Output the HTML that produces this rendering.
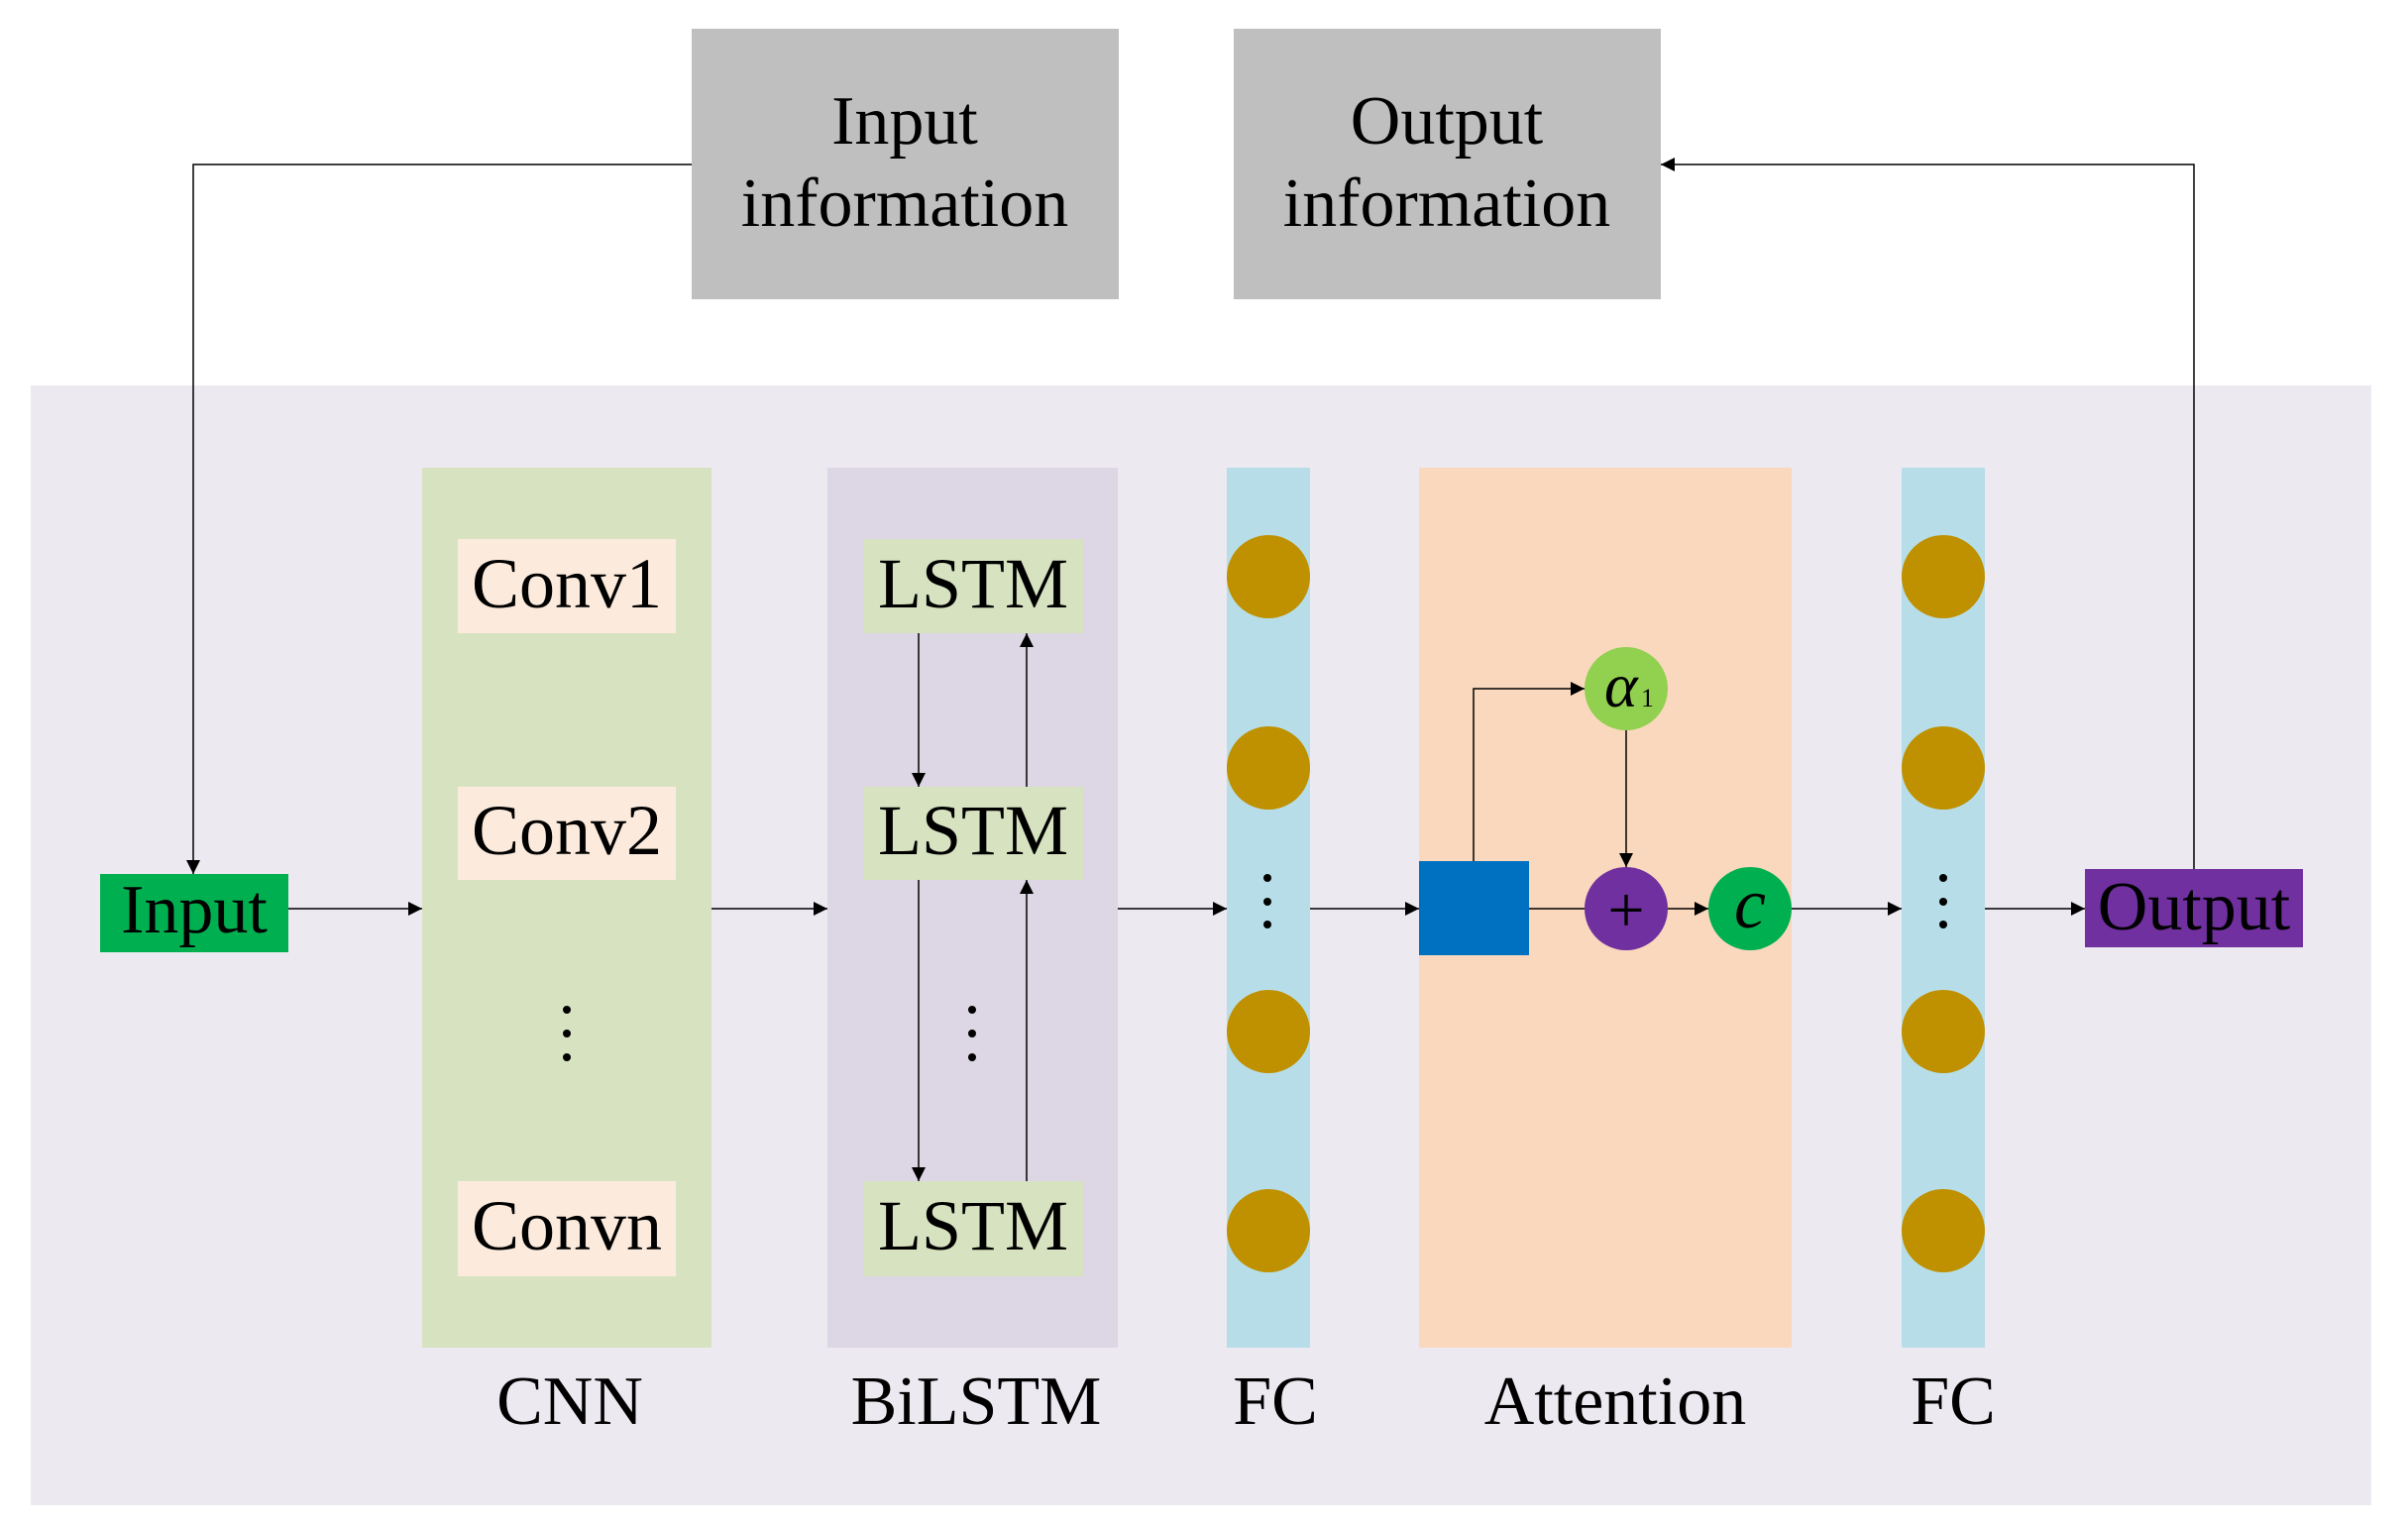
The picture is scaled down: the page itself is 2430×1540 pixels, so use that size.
<!DOCTYPE html>
<html><head><meta charset="utf-8"><style>
html,body{margin:0;padding:0;background:#fff;}
svg{display:block;}
text{font-family:"Liberation Serif",serif;fill:#000;}
</style></head><body>
<svg width="2430" height="1540" viewBox="0 0 2430 1540" xmlns="http://www.w3.org/2000/svg">
<defs>
<marker id="a" viewBox="0 0 10 10" refX="10" refY="5" markerWidth="20" markerHeight="14" markerUnits="userSpaceOnUse" orient="auto">
<path d="M0,0 L10,5 L0,10 z" fill="#000"/></marker>
</defs>
<rect x="0" y="0" width="2430" height="1540" fill="#fff"/>
<rect x="698" y="29" width="431" height="273" fill="#bfbfbf"/>
<text x="913" y="145" font-size="70" text-anchor="middle">Input</text>
<text x="913" y="228" font-size="70" text-anchor="middle">information</text>
<rect x="1245" y="29" width="431" height="273" fill="#bfbfbf"/>
<text x="1460" y="145" font-size="70" text-anchor="middle">Output</text>
<text x="1460" y="228" font-size="70" text-anchor="middle">information</text>
<rect x="31" y="389" width="2362" height="1130" fill="#ece9f1"/>
<rect x="426" y="472" width="292" height="888" fill="#d7e3c0"/>
<rect x="835" y="472" width="293" height="888" fill="#dcd6e5"/>
<rect x="1238" y="472" width="84" height="888" fill="#b7dee8"/>
<rect x="1432" y="472" width="376" height="888" fill="#fad8bd"/>
<rect x="1919" y="472" width="84" height="888" fill="#b7dee8"/>
<rect x="462" y="544" width="220" height="95" fill="#fcebdd"/>
<text x="572" y="613" font-size="72" text-anchor="middle">Conv1</text>
<rect x="462" y="794" width="220" height="94" fill="#fcebdd"/>
<text x="572" y="862" font-size="72" text-anchor="middle">Conv2</text>
<rect x="462" y="1192" width="220" height="96" fill="#fcebdd"/>
<text x="572" y="1261" font-size="72" text-anchor="middle">Convn</text>
<g fill="#000">
<circle cx="572" cy="1019" r="4"/><circle cx="572" cy="1043" r="4"/><circle cx="572" cy="1067" r="4"/>
<circle cx="981" cy="1019" r="4"/><circle cx="981" cy="1043" r="4"/><circle cx="981" cy="1067" r="4"/>
<circle cx="1279" cy="886" r="4"/><circle cx="1279" cy="910" r="4"/><circle cx="1279" cy="933" r="4"/>
<circle cx="1961" cy="886" r="4"/><circle cx="1961" cy="910" r="4"/><circle cx="1961" cy="933" r="4"/>
</g>
<rect x="872" y="544" width="221" height="95" fill="#d7e3c0"/>
<text x="982" y="613" font-size="72" text-anchor="middle">LSTM</text>
<rect x="872" y="794" width="221" height="94" fill="#d7e3c0"/>
<text x="982" y="862" font-size="72" text-anchor="middle">LSTM</text>
<rect x="872" y="1192" width="221" height="96" fill="#d7e3c0"/>
<text x="982" y="1261" font-size="72" text-anchor="middle">LSTM</text>
<g stroke="#000" stroke-width="1.5" fill="none">
<line x1="927" y1="639" x2="927" y2="794" marker-end="url(#a)"/>
<line x1="927" y1="888" x2="927" y2="1192" marker-end="url(#a)"/>
<line x1="1036" y1="794" x2="1036" y2="639" marker-end="url(#a)"/>
<line x1="1036" y1="1192" x2="1036" y2="888" marker-end="url(#a)"/>
</g>
<g fill="#bf9000">
<ellipse cx="1280" cy="582" rx="42" ry="42"/><ellipse cx="1280" cy="775" rx="42" ry="42"/>
<ellipse cx="1280" cy="1041" rx="42" ry="42"/><ellipse cx="1280" cy="1242" rx="42" ry="42"/>
<ellipse cx="1961" cy="582" rx="42" ry="42"/><ellipse cx="1961" cy="775" rx="42" ry="42"/>
<ellipse cx="1961" cy="1041" rx="42" ry="42"/><ellipse cx="1961" cy="1242" rx="42" ry="42"/>
</g>
<rect x="1432" y="869" width="111" height="95" fill="#0070c0"/>
<g stroke="#000" stroke-width="1.5" fill="none">
<polyline points="1487,869 1487,695 1599,695" marker-end="url(#a)"/>
<line x1="1641" y1="737" x2="1641" y2="875" marker-end="url(#a)"/>
<line x1="1543" y1="917" x2="1599" y2="917"/>
<line x1="1683" y1="917" x2="1724" y2="917" marker-end="url(#a)"/>
</g>
<circle cx="1641" cy="695" r="42" fill="#92d050"/>
<text x="1619" y="713" font-size="64" font-style="italic">α</text>
<text x="1656" y="713" font-size="26">1</text>
<circle cx="1641" cy="917" r="42" fill="#7030a0"/>
<text x="1641" y="940" font-size="66" text-anchor="middle">+</text>
<circle cx="1766" cy="917" r="42" fill="#00b050"/>
<text x="1766" y="936" font-size="72" font-style="italic" text-anchor="middle">c</text>
<rect x="101" y="882" width="190" height="79" fill="#00b050"/>
<text x="196" y="941" font-size="70" text-anchor="middle">Input</text>
<rect x="2104" y="877" width="220" height="79" fill="#7030a0"/>
<text x="2214" y="938" font-size="70" text-anchor="middle">Output</text>
<g stroke="#000" stroke-width="1.5" fill="none">
<polyline points="698,166 195,166 195,882" marker-end="url(#a)"/>
<polyline points="2214,877 2214,166 1676,166" marker-end="url(#a)"/>
<line x1="291" y1="917" x2="426" y2="917" marker-end="url(#a)"/>
<line x1="718" y1="917" x2="835" y2="917" marker-end="url(#a)"/>
<line x1="1128" y1="917" x2="1238" y2="917" marker-end="url(#a)"/>
<line x1="1322" y1="917" x2="1432" y2="917" marker-end="url(#a)"/>
<line x1="1808" y1="917" x2="1919" y2="917" marker-end="url(#a)"/>
<line x1="2003" y1="917" x2="2104" y2="917" marker-end="url(#a)"/>
</g>
<text x="575" y="1437" font-size="70" text-anchor="middle">CNN</text>
<text x="985" y="1437" font-size="70" text-anchor="middle">BiLSTM</text>
<text x="1287" y="1437" font-size="70" text-anchor="middle">FC</text>
<text x="1630" y="1437" font-size="70" text-anchor="middle">Attention</text>
<text x="1971" y="1437" font-size="70" text-anchor="middle">FC</text>
</svg>
</body></html>
